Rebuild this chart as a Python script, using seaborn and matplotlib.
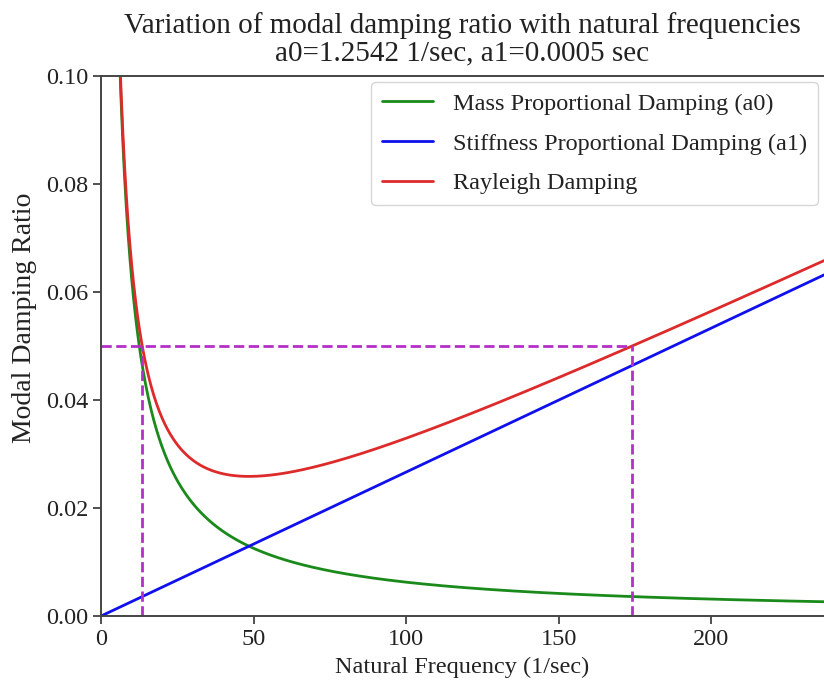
import numpy as np
import pandas as pd
import matplotlib
matplotlib.use("Agg")
import matplotlib.pyplot as plt
import seaborn as sns

# Rayleigh damping coefficients (a1 shown rounded in the title)
a0 = 1.2542
a1 = 0.000533
target_zeta = 0.05
omega_1 = 13.5
omega_2 = 174.1
title_lines = ["Variation of modal damping ratio with natural frequencies",
               "a0=1.2542 1/sec, a1=0.0005 sec"]
series_names = ["Mass Proportional Damping (a0)",
                "Stiffness Proportional Damping (a1)",
                "Rayleigh Damping"]
x_ticks = [0, 50, 100, 150, 200]
y_ticks = [0.00, 0.02, 0.04, 0.06, 0.08, 0.10]

omega = np.linspace(0.5, 240, 800)
zeta_mass = a0 / (2 * omega)
zeta_stiff = a1 * omega / 2
zeta_ray = zeta_mass + zeta_stiff

df = pd.concat([
    pd.DataFrame({"omega": omega, "zeta": zeta_mass, "series": series_names[0]}),
    pd.DataFrame({"omega": omega, "zeta": zeta_stiff, "series": series_names[1]}),
    pd.DataFrame({"omega": omega, "zeta": zeta_ray, "series": series_names[2]}),
])

sns.set_style("ticks")
plt.rcParams["font.family"] = ["Liberation Serif", "DejaVu Serif"]

fig = plt.figure(figsize=(8.24, 6.90), dpi=100)
ax = fig.add_axes([0.1226, 0.1072, 0.8774, 0.7827])

palette = {series_names[0]: "#1a8a1a", series_names[1]: "#1010ee", series_names[2]: "#dd2b2b"}
sns.lineplot(data=df, x="omega", y="zeta", hue="series", palette=palette,
             linewidth=2, ax=ax, sort=False)

ax.plot([0, omega_2], [target_zeta, target_zeta], ls="--", color="#b52fc9", lw=2)
ax.plot([omega_1, omega_1], [0, target_zeta], ls="--", color="#b52fc9", lw=2)
ax.plot([omega_2, omega_2], [0, target_zeta], ls="--", color="#b52fc9", lw=2)

ax.set_xlim(0, 237)
ax.set_ylim(0, 0.10)
ax.set_xticks(x_ticks)
ax.set_yticks(y_ticks)
ax.set_yticklabels([f"{v:.2f}" for v in y_ticks])
ax.tick_params(labelsize=17.5, length=6, width=1.2, pad=3, colors="#333333", labelcolor="#222222")
for s in ["left", "bottom", "top"]:
    ax.spines[s].set_linewidth(1.4)
    ax.spines[s].set_color("#444444")
ax.spines["right"].set_visible(False)

ax.set_xlabel("Natural Frequency (1/sec)", fontsize=17.5, color="#222222", labelpad=5)
ax.set_ylabel("Modal Damping Ratio", fontsize=20, color="#222222")
ax.yaxis.set_label_coords(-0.089, 0.552)
ax.set_title("\n".join(title_lines), fontsize=21, color="#222222", linespacing=1.1, pad=11)

leg = ax.legend(loc="upper right", fontsize=17.5, frameon=True, handlelength=2.1,
                handletextpad=0.8, borderaxespad=0.25, labelspacing=0.72, borderpad=0.45)
leg.get_frame().set_edgecolor("#cccccc")
for t in leg.get_texts():
    t.set_color("#222222")

fig.savefig("out.png", dpi=100)
